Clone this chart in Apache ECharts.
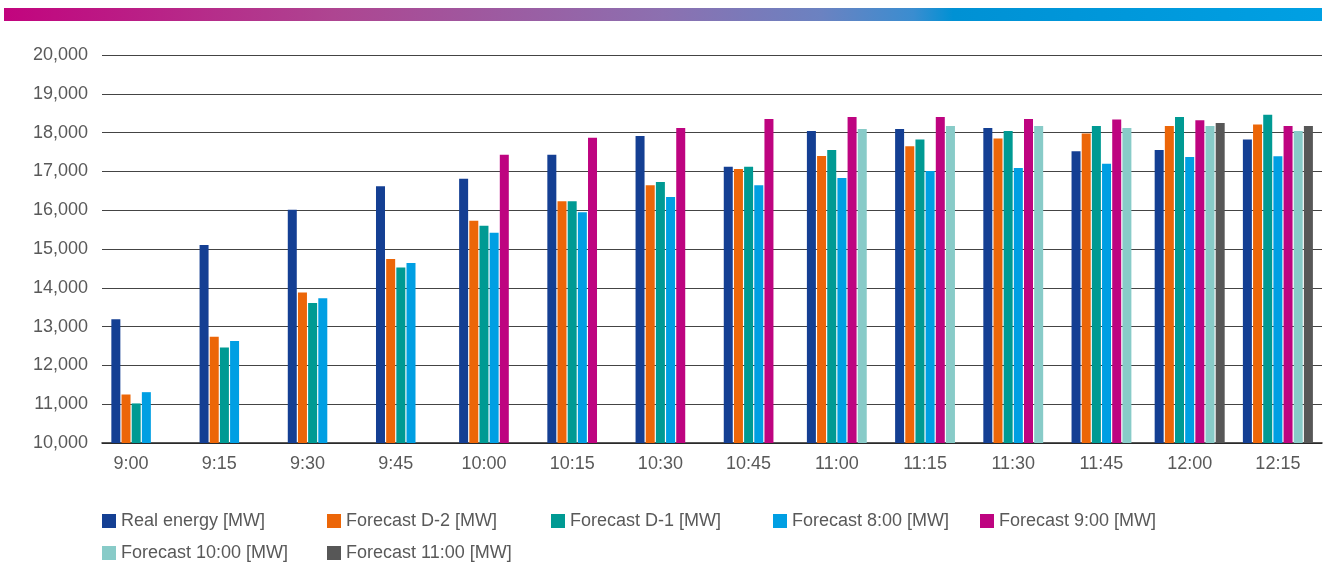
<!DOCTYPE html>
<html>
<head>
<meta charset="utf-8">
<script src="https://cdn.jsdelivr.net/npm/echarts@6/dist/echarts.min.js"></script>
<style>
html,body{margin:0;padding:0;background:#fff;}
#chart{width:1324px;height:568px;}
</style>
</head>
<body>
<div id="chart"></div>
<script>
const categories = ['9:00','9:15','9:30','9:45','10:00','10:15','10:30','10:45','11:00','11:15','11:30','11:45','12:00','12:15'];
const realEnergy   = [13190,15100,16010,16620,16810,17430,17910,17120,18040,18090,18120,17520,17550,17820];
const forecastD2   = [11250,12740,13880,14740,15730,16230,16640,17060,17400,17650,17850,17980,18170,18210];
const forecastD1   = [11020,12460,13610,14520,15600,16230,16730,17120,17550,17820,18040,18170,18400,18460];
const forecast800  = [11310,12630,13730,14640,15420,15950,16340,16640,16830,17010,17090,17200,17370,17390];
const forecast900  = [null,null,null,null,17430,17870,18120,18350,18400,18400,18350,18340,18320,18170];
const forecast1000 = [null,null,null,null,null,null,null,null,18090,18170,18170,18120,18170,18040];
const forecast1100 = [null,null,null,null,null,null,null,null,null,null,null,null,18250,18170];
const seriesNames = ['Real energy [MW]','Forecast D-2 [MW]','Forecast D-1 [MW]','Forecast 8:00 [MW]','Forecast 9:00 [MW]','Forecast 10:00 [MW]','Forecast 11:00 [MW]'];
const yTicks = [10000,11000,12000,13000,14000,15000,16000,17000,18000,19000,20000];

const seriesData = [realEnergy, forecastD2, forecastD1, forecast800, forecast900, forecast1000, forecast1100];
const colors = ['#143F93','#EC6608','#009A93','#009FE3','#BE0480','#88CBC8','#575757'];
const textColor = '#595959';
const font = 'Liberation Sans, Arial, sans-serif';

// group categories by which series are present so each group of bars is centred
const keys = categories.map((c, i) => seriesData.map(d => d[i] != null ? '1' : '0').join(''));
const uniqueKeys = [...new Set(keys)];

const xAxes = [{
  type: 'category', gridIndex: 1, data: categories,
  axisLine: {show: true, lineStyle: {color: '#222', width: 1.5}},
  axisTick: {show: false}, axisLabel: {show: false}, splitLine: {show: false}
}];
const series = [];
uniqueKeys.forEach((key, gi) => {
  xAxes.push({
    type: 'category', gridIndex: 0, data: categories, show: gi === 0,
    axisLine: {show: false}, axisTick: {show: false},
    axisLabel: {show: gi === 0, color: textColor, fontSize: 18, fontFamily: font, margin: 12}
  });
  seriesData.forEach((d, si) => {
    if (key[si] !== '1') return;
    series.push({
      name: seriesNames[si], type: 'bar', xAxisIndex: gi + 1, yAxisIndex: 0,
      barWidth: 9, barGap: '13%',
      itemStyle: {color: colors[si]},
      data: d.map((v, i) => keys[i] === key ? v : null)
    });
  });
});

const legendPos = [[102,512],[327,512],[551,512],[773,512],[980,512],[102,544],[327,544]];
const legends = seriesNames.map((n, i) => ({
  data: [n], left: legendPos[i][0], top: legendPos[i][1], orient: 'horizontal', padding: 0,
  itemWidth: 14, itemHeight: 14, itemGap: 0, icon: 'rect',
  textStyle: {color: textColor, fontSize: 18, fontFamily: font}
}));

const chart = echarts.init(document.getElementById('chart'), null, {renderer: 'canvas'});
chart.setOption({
  animation: false,
  color: colors,
  graphic: [{
    type: 'rect', left: 4, top: 8, shape: {width: 1318, height: 13}, silent: true,
    style: {fill: new echarts.graphic.LinearGradient(0, 0, 1, 0, [
      {offset: 0, color: '#C2047E'},
      {offset: 0.25, color: '#AE4591'},
      {offset: 0.5, color: '#8C70B0'},
      {offset: 0.62, color: '#6B82C1'},
      {offset: 0.69, color: '#3A8DD0'},
      {offset: 0.72, color: '#0091D4'},
      {offset: 1, color: '#00A0E3'}
    ])}
  }],
  legend: legends,
  grid: [
    {left: 87, right: 2, top: 55, bottom: 125, containLabel: false},
    {left: 102, right: 2, top: 55, bottom: 125, containLabel: false}
  ],
  xAxis: xAxes,
  yAxis: [
    {type: 'value', gridIndex: 0, min: yTicks[0], max: yTicks[yTicks.length-1], interval: 1000, show: false, splitLine: {show: false}},
    {type: 'value', gridIndex: 1, min: yTicks[0], max: yTicks[yTicks.length-1], interval: 1000,
     axisLine: {show: false}, axisTick: {show: false},
     axisLabel: {color: textColor, fontSize: 18, fontFamily: font, margin: 14,
       formatter: v => v.toLocaleString('en-US')},
     splitLine: {show: true, lineStyle: {color: '#444', width: 1}}}
  ],
  series: series
});
</script>
</body>
</html>
